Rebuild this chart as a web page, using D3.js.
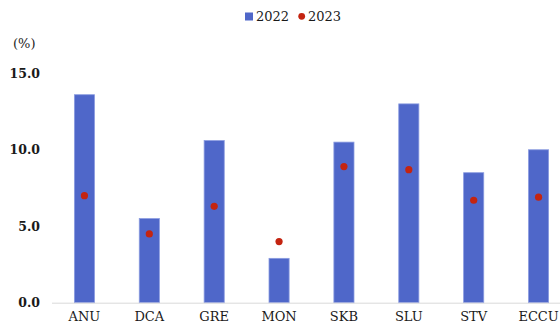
<!DOCTYPE html>
<html>
<head>
<meta charset="utf-8">
<script src="https://cdn.jsdelivr.net/npm/d3@7"></script>
<style>
  html, body { margin: 0; padding: 0; background: #fff; }
  svg text { font-family: "DejaVu Serif", serif; fill: #1a1a1a; }
</style>
</head>
<body>
<svg id="chart" width="560" height="328"></svg>
<script>
// Categories and series values (%)
const categories = ["ANU", "DCA", "GRE", "MON", "SKB", "SLU", "STV", "ECCU"];
const values2022 = [13.6, 5.5, 10.6, 2.9, 10.5, 13.0, 8.5, 10.0];
const values2023 = [7.0, 4.5, 6.3, 4.0, 8.9, 8.7, 6.7, 6.9];
const yTicks = [0, 5, 10, 15];
const seriesNames = ["2022", "2023"];

const FONT = "DejaVu Serif, serif";
const svg = d3.select("#chart");
const barColor = "#4f67c9";
const dotColor = "#c42410";

const x = d3.scaleBand().domain(categories).range([52, 571]).paddingInner(0.69).paddingOuter(0.345);
const y = d3.scaleLinear().domain([0, 15]).range([302.7, 73.3]);

// Y axis labels
const yAxis = d3.axisLeft(y).tickValues(yTicks).tickFormat(d3.format(".1f")).tickSize(0).tickPadding(0);
const gy = svg.append("g").attr("transform", "translate(40,0)").call(yAxis)
  .attr("font-family", FONT);
gy.select(".domain").remove();
gy.selectAll("text").attr("font-size", 12.5).attr("font-weight", "bold").attr("fill", "#1a1a1a");

svg.append("text").attr("x", 13).attr("y", 48).attr("font-size", 13).text("(%)");

// Bars for 2022
svg.append("g").selectAll("rect").data(categories).join("rect")
  .attr("x", d => x(d))
  .attr("width", x.bandwidth())
  .attr("y", (d, i) => y(values2022[i]))
  .attr("height", (d, i) => y(0) - y(values2022[i]))
  .attr("fill", barColor)
  .attr("stroke", "#8a9be0")
  .attr("stroke-width", 0.8);

// Baseline
svg.append("line").attr("x1", 52).attr("x2", 560).attr("y1", y(0) + 0.5).attr("y2", y(0) + 0.5)
  .attr("stroke", "#d9d9d9").attr("stroke-width", 1);

// Dots for 2023
svg.append("g").selectAll("circle").data(categories).join("circle")
  .attr("cx", d => x(d) + x.bandwidth() / 2)
  .attr("cy", (d, i) => y(values2023[i]))
  .attr("r", 3.6)
  .attr("fill", dotColor);

// X axis labels
const xAxis = d3.axisBottom(x).tickSize(0).tickPadding(0);
const gx = svg.append("g").attr("transform", `translate(0,${y(0) + 9})`).call(xAxis)
  .attr("font-family", FONT);
gx.select(".domain").remove();
gx.selectAll("text").attr("font-size", 13).attr("fill", "#1a1a1a");

// Legend
const lg = svg.append("g");
lg.append("rect").attr("x", 245).attr("y", 12.5).attr("width", 8).attr("height", 8).attr("fill", barColor);
lg.append("text").attr("x", 256).attr("y", 21).attr("font-size", 13).text(seriesNames[0]);
lg.append("circle").attr("cx", 301.7).attr("cy", 16.3).attr("r", 3.4).attr("fill", dotColor);
lg.append("text").attr("x", 308).attr("y", 21).attr("font-size", 13).text(seriesNames[1]);
</script>
</body>
</html>
